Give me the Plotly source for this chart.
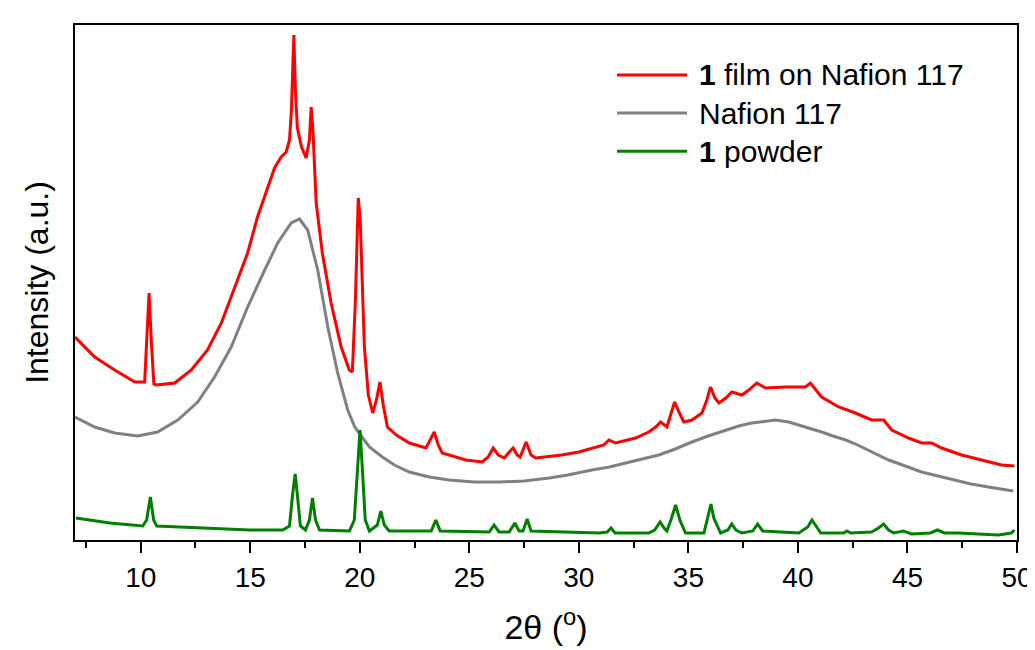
import plotly.graph_objects as go

# 2-theta (degrees) and intensity (a.u., arbitrary offset scale)
film_x = [7.00, 7.90, 8.81, 9.73, 10.18, 10.28, 10.38, 10.48, 10.60, 10.71, 11.55, 12.31, 13.05, 13.68, 14.28,
          14.88, 15.33, 15.79, 16.11, 16.41, 16.64, 16.79, 16.88, 16.99, 17.06, 17.15, 17.34, 17.55, 17.70,
          17.78, 17.86, 18.01, 18.29, 18.69, 19.15, 19.52, 19.66, 19.80, 19.93, 20.02, 20.12, 20.21, 20.39,
          20.59, 20.76, 20.92, 21.07, 21.26, 21.67, 22.26, 23.02, 23.22, 23.40, 23.58, 23.76, 24.84, 25.59,
          25.86, 26.09, 26.32, 26.60, 26.82, 27.00, 27.18, 27.32, 27.59, 27.82, 28.03, 29.22, 30.00, 30.59,
          31.14, 31.37, 31.68, 32.59, 33.19, 33.51, 33.73, 34.02, 34.20, 34.37, 34.57, 34.79, 35.16, 35.62,
          35.84, 36.01, 36.21, 36.39, 36.71, 36.98, 37.44, 37.76, 38.12, 38.52, 39.43, 40.34, 40.57, 40.76,
          41.08, 41.86, 42.62, 43.36, 43.91, 44.28, 45.05, 45.64, 46.10, 46.56, 47.47, 48.38, 49.29, 49.88]
film_y = [203, 183, 170, 158, 158, 200, 247, 200, 156, 155, 157, 170, 190, 217, 253,
          287, 323, 353, 372, 383, 388, 400, 430, 505, 450, 412, 393, 382, 400,
          433, 410, 337, 287, 237, 193, 170, 168, 240, 342, 320, 240, 193, 145,
          127, 140, 158, 135, 113, 105, 97, 92, 100, 108, 95, 87, 80, 78,
          83, 92, 85, 82, 88, 92, 85, 83, 98, 85, 82, 85, 88, 92,
          95, 100, 97, 102, 108, 113, 118, 113, 125, 138, 128, 118, 120, 127,
          140, 153, 142, 137, 142, 148, 145, 150, 157, 152, 153, 153, 157, 152,
          143, 133, 127, 120, 120, 110, 102, 97, 97, 92, 85, 80, 75, 74]

nafion_x = [7.00, 7.90, 8.81, 9.86, 10.77, 11.69, 12.60, 13.37, 14.13, 14.88, 15.66, 16.25, 16.87, 17.25,
            17.62, 18.08, 18.54, 18.99, 19.45, 19.77, 20.20, 20.44, 21.03, 21.58, 22.26, 23.17, 24.08, 25.22,
            26.36, 27.50, 28.64, 29.50, 30.59, 31.40, 32.14, 32.90, 33.65, 34.40, 35.16, 35.90, 36.71, 37.30,
            37.89, 38.50, 38.98, 39.58, 40.04, 40.50, 41.08, 41.60, 42.18, 42.63, 43.40, 44.14, 44.90, 45.64,
            46.40, 47.19, 47.90, 48.69, 49.30, 49.83]
nafion_y = [123, 113, 107, 104, 108, 120, 138, 163, 193, 233, 270, 297, 317, 321,
            310, 270, 213, 167, 130, 113, 100, 93, 83, 75, 68, 63, 60, 58,
            58, 59, 62, 65, 70, 73, 77, 81, 85, 91, 98, 104, 110, 114,
            117, 119, 120, 118, 115, 112, 108, 104, 100, 96, 88, 80, 74, 68,
            64, 60, 56, 53, 51, 49]

powder_x = [7.04, 8.59, 10.09, 10.27, 10.44, 10.59, 10.73, 12.83, 14.97, 16.48, 16.79, 16.93, 17.05, 17.15, 17.29,
            17.52, 17.70, 17.84, 17.98, 18.16, 19.53, 19.75, 19.89, 20.01, 20.12, 20.25, 20.44, 20.80, 20.96,
            21.12, 21.34, 23.26, 23.47, 23.67, 25.91, 26.13, 26.36, 26.82, 27.08, 27.27, 27.45, 27.64, 27.82,
            29.10, 30.93, 31.29, 31.47, 31.65, 33.19, 33.46, 33.71, 33.89, 34.02, 34.20, 34.42, 34.61, 34.87,
            35.71, 35.89, 36.03, 36.16, 36.47, 36.80, 36.98, 37.17, 37.44, 37.94, 38.16, 38.39, 40.04, 40.45,
            40.64, 40.86, 41.04, 42.09, 42.23, 42.41, 43.36, 43.68, 43.91, 44.14, 44.37, 44.82, 45.19, 46.05,
            46.37, 46.69, 47.33, 49.15, 49.74, 49.88]
powder_y = [22, 17, 14, 20, 43, 20, 14, 12, 10, 10, 14, 45, 66, 45, 14,
            10, 20, 42, 20, 10, 9, 20, 70, 110, 70, 20, 9, 15, 29,
            15, 9, 9, 20, 9, 8, 15, 8, 8, 17, 9, 9, 21, 9,
            8, 7, 8, 12, 7, 7, 10, 18, 12, 9, 20, 35, 20, 7,
            7, 22, 36, 22, 7, 10, 16, 10, 7, 9, 16, 9, 7, 13,
            20, 13, 7, 7, 9, 7, 8, 12, 16, 10, 7, 9, 6, 7,
            10, 7, 7, 5, 7, 10]

x_ticks = [10, 15, 20, 25, 30, 35, 40, 45, 50]

series_names = ["<b>1</b> film on Nafion 117", "Nafion 117", "<b>1</b> powder"]
series_colors = ["#ff0000", "#808080", "#008000"]

FONT = "Arial, 'Liberation Sans', sans-serif"

fig = go.Figure()
for xs, ys, name, col in zip([film_x, nafion_x, powder_x], [film_y, nafion_y, powder_y],
                             series_names, series_colors):
    fig.add_trace(go.Scatter(x=xs, y=ys, mode="lines", name=name,
                             line=dict(color=col, width=3), showlegend=False))

# custom legend (long line samples as in the original)
leg_y = [0.903, 0.829, 0.755]
for name, col, yy in zip(series_names, series_colors, leg_y):
    fig.add_shape(type="line", xref="paper", yref="paper", x0=0.5754, x1=0.6497, y0=yy, y1=yy,
                  line=dict(color=col, width=3))
    fig.add_annotation(xref="paper", yref="paper", x=0.660, y=yy, text=name, showarrow=False,
                       xanchor="left", yanchor="middle", font=dict(family=FONT, size=30, color="black"))

fig.update_layout(
    width=1035, height=650,
    margin=dict(l=67, r=26, t=17, b=118),
    paper_bgcolor="white", plot_bgcolor="white",
    font=dict(family=FONT, color="black"),
    showlegend=False,
)
fig.update_xaxes(range=[7, 50], tickvals=x_ticks, ticks="outside", ticklen=11, tickwidth=2,
                 tickcolor="black", showline=True, linewidth=2, linecolor="black", mirror=True,
                 showgrid=False, zeroline=False, tickfont=dict(family=FONT, size=28), automargin=False,
                 minor=dict(dtick=2.5, tick0=7.5, ticks="outside", ticklen=6, tickwidth=2, tickcolor="black"),
                 title=dict(text="2θ (<sup>o</sup>)", font=dict(family=FONT, size=34), standoff=24))
fig.update_yaxes(range=[0, 515], showticklabels=False, ticks="", showline=True, linewidth=2,
                 linecolor="black", mirror=True, showgrid=False, zeroline=False, automargin=False,
                 title=dict(text="Intensity (a.u.)", font=dict(family=FONT, size=32), standoff=15))

fig.write_html("out.html")
